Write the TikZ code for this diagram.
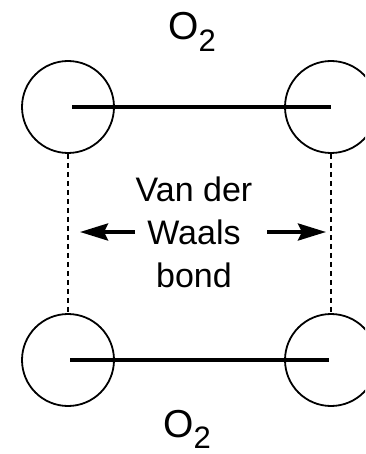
\documentclass[tikz,border=0pt]{standalone}
\usepackage{fontspec}
\setmainfont{Liberation Sans}
\usetikzlibrary{arrows.meta}
\begin{document}
\begin{tikzpicture}[x=1pt,y=1pt,
  atom/.style={circle,draw,line width=1.8pt,minimum size=92pt,inner sep=0pt},
  bondline/.style={line width=3.4pt},
  vdw/.style={dashed,line width=1.8pt,dash pattern=on 5pt off 4pt},
  pointer/.style={line width=3.5pt,-{Stealth[length=28pt,width=17pt,inset=4pt]}},
  molname/.style={inner sep=0pt,font=\fontsize{39}{39}\selectfont},
  caption/.style={inner sep=0pt,align=center,font=\fontsize{34}{43}\selectfont}]
\clip (0,0) rectangle (365,-454);
\fill[white] (0,0) rectangle (365,-454);

% upper O2 molecule
\node[atom] (tl) at (68,-107) {};
\node[atom] (tr) at (331,-107) {};
\draw[bondline] ([xshift=4pt]tl.center) -- (tr.center);
\node[molname,anchor=base west] (otop) at (168,-40) {O\raisebox{-12pt}{\fontsize{31}{31}\selectfont 2}};

% lower O2 molecule
\node[atom] (bl) at (68,-360) {};
\node[atom] (br) at (331,-360) {};
\draw[bondline] ([xshift=2pt]bl.center) -- ([xshift=-2pt]br.center);
\node[molname,anchor=base west] (obot) at (163,-437) {O\raisebox{-11pt}{\fontsize{31}{31}\selectfont 2}};

% van der Waals interaction between the molecules
\draw[vdw] (tl.south) -- (bl.north);
\draw[vdw] (tr.south) -- (br.north);
\node[caption] (label) at (194,-232) {Van der\\Waals\\bond};
\coordinate (ltail) at (135,-232);
\coordinate (ltip) at (80,-232);
\coordinate (rtail) at (267,-232);
\coordinate (rtip) at (326,-232);
\draw[pointer] (ltail) -- (ltip);
\draw[pointer] (rtail) -- (rtip);
\end{tikzpicture}
\end{document}
